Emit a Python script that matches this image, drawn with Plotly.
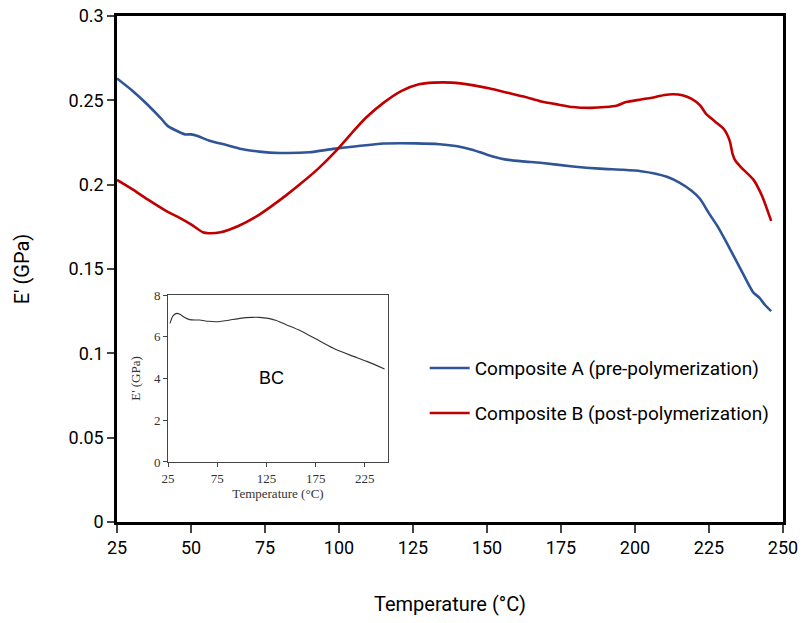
import plotly.graph_objects as go

# Composite A (pre-polymerization)
temp_a = [25, 30, 35, 40, 42, 46, 48, 50, 52, 56, 62, 67, 73, 80, 90, 98, 106, 115, 126, 134, 140, 145, 150, 156, 162, 168, 179, 188, 196, 202, 207, 211, 215, 219, 222, 225, 228, 231, 234, 237, 240, 242, 244, 246]
e_a = [0.263, 0.256, 0.248, 0.239, 0.235, 0.2312, 0.2298, 0.2298, 0.2290, 0.2262, 0.2235, 0.2212, 0.2196, 0.2188, 0.2192, 0.2212, 0.2228, 0.2244, 0.2245, 0.224, 0.2228, 0.2207, 0.2178, 0.2150, 0.2138, 0.2130, 0.2108, 0.2095, 0.2088, 0.2080, 0.2065, 0.2045, 0.2012, 0.1965, 0.1915, 0.1830, 0.1750, 0.1655, 0.1555, 0.1455, 0.1360, 0.1330, 0.1285, 0.1250]

# Composite B (post-polymerization)
temp_b = [25, 30, 36, 42, 46, 50, 54, 56, 60, 66, 72, 77, 82, 87, 93, 99, 104, 109, 115, 121, 127, 132, 138, 145, 151, 157, 163, 168, 174, 179, 185, 190, 194, 197, 202, 207, 210, 213, 216, 219, 222, 224, 227, 230, 232, 233, 234, 236, 240, 243, 246]
e_b = [0.2028, 0.1975, 0.1905, 0.184, 0.1805, 0.1765, 0.1718, 0.1712, 0.1718, 0.1755, 0.1810, 0.1870, 0.1935, 0.2005, 0.2095, 0.2200, 0.2300, 0.2395, 0.2485, 0.2555, 0.2595, 0.2605, 0.2605, 0.2590, 0.2570, 0.2545, 0.2520, 0.2495, 0.2475, 0.2460, 0.2455, 0.2460, 0.2470, 0.2490, 0.2505, 0.2520, 0.2532, 0.2536, 0.2530, 0.2510, 0.2470, 0.2420, 0.2375, 0.2330, 0.2260, 0.2180, 0.2140, 0.2100, 0.2030, 0.1930, 0.1785]

# Inset: BC
temp_bc = [27, 30, 34, 37, 42, 47, 57, 66, 74, 85, 98, 110, 118, 127, 135, 145, 159, 175, 193, 210, 227, 245]
e_bc = [6.64, 7.00, 7.12, 7.08, 6.92, 6.82, 6.80, 6.74, 6.72, 6.78, 6.88, 6.93, 6.93, 6.88, 6.78, 6.58, 6.30, 5.90, 5.45, 5.12, 4.82, 4.46]

x_ticks = [25, 50, 75, 100, 125, 150, 175, 200, 225, 250]
y_ticks = [0, 0.05, 0.1, 0.15, 0.2, 0.25, 0.3]
y_tick_text = ["0", "0.05", "0.1", "0.15", "0.2", "0.25", "0.3"]
inset_x_ticks = [25, 75, 125, 175, 225]
inset_y_ticks = [0, 2, 4, 6, 8]

MAIN_FONT = "Roboto"
SERIF = "Liberation Serif"

fig = go.Figure()
fig.add_trace(go.Scatter(x=temp_a, y=e_a, mode="lines", name="Composite A (pre-polymerization)",
                         line=dict(color="#2F5597", width=2.6, shape="spline", smoothing=0.6),
                         legend="legend"))
fig.add_trace(go.Scatter(x=temp_b, y=e_b, mode="lines", name="Composite B (post-polymerization)",
                         line=dict(color="#C00000", width=2.6, shape="spline", smoothing=0.6),
                         legend="legend2"))
fig.add_trace(go.Scatter(x=temp_bc, y=e_bc, mode="lines", name="BC", showlegend=False,
                         line=dict(color="#333333", width=1.1, shape="spline", smoothing=0.6),
                         xaxis="x2", yaxis="y2"))

fig.update_layout(
    width=803, height=623,
    margin=dict(l=117, r=20, t=16, b=101, autoexpand=False),
    paper_bgcolor="white", plot_bgcolor="white",
    font=dict(family=MAIN_FONT, size=18, color="black"),
    xaxis=dict(range=[25, 250], tickvals=x_ticks, ticks="outside", ticklen=8, tickwidth=2,
               showline=True, linecolor="black", linewidth=2.5, mirror=True, showgrid=False,
               zeroline=False, tickfont=dict(size=18), automargin=False,
               title=dict(text="Temperature (°C)", font=dict(size=20), standoff=40)),
    yaxis=dict(range=[0, 0.3], tickvals=y_ticks, ticktext=y_tick_text, ticks="outside", ticklen=7,
               tickwidth=2, showline=True, linecolor="black", linewidth=2.5, mirror=True,
               showgrid=False, zeroline=False, tickfont=dict(size=18), automargin=False,
               title=dict(text="E' (GPa)", font=dict(size=20), standoff=34)),
    xaxis2=dict(domain=[0.0766, 0.4069], anchor="y2", range=[25, 248.5], tickvals=inset_x_ticks,
                ticks="outside", ticklen=4, tickwidth=1, tickcolor="#444", showline=True,
                linecolor="#444", linewidth=1, mirror=True, showgrid=False, zeroline=False,
                automargin=False,
                tickfont=dict(family=SERIF, size=13, color="#333"),
                title=dict(text="Temperature (°C)", font=dict(family=SERIF, size=13, color="#333"), standoff=2)),
    yaxis2=dict(domain=[0.1186, 0.4486], anchor="x2", range=[0, 8], tickvals=inset_y_ticks,
                ticks="outside", ticklen=4, tickwidth=1, tickcolor="#444", showline=True,
                linecolor="#444", linewidth=1, mirror=True, showgrid=False, zeroline=False,
                automargin=False,
                tickfont=dict(family=SERIF, size=13, color="#333"),
                title=dict(text="E' (GPa)", font=dict(family=SERIF, size=13, color="#333"), standoff=10)),
    legend=dict(x=0.462, y=0.304, xanchor="left", yanchor="middle", bgcolor="rgba(0,0,0,0)",
                font=dict(size=19), itemwidth=40),
    legend2=dict(x=0.462, y=0.215, xanchor="left", yanchor="middle", bgcolor="rgba(0,0,0,0)",
                 font=dict(size=19), itemwidth=40),
    annotations=[dict(text="BC", x=130, y=4.0, xref="x2", yref="y2", showarrow=False,
                      font=dict(family="Liberation Sans", size=18, color="black"))],
)

fig.write_html("out.html")
